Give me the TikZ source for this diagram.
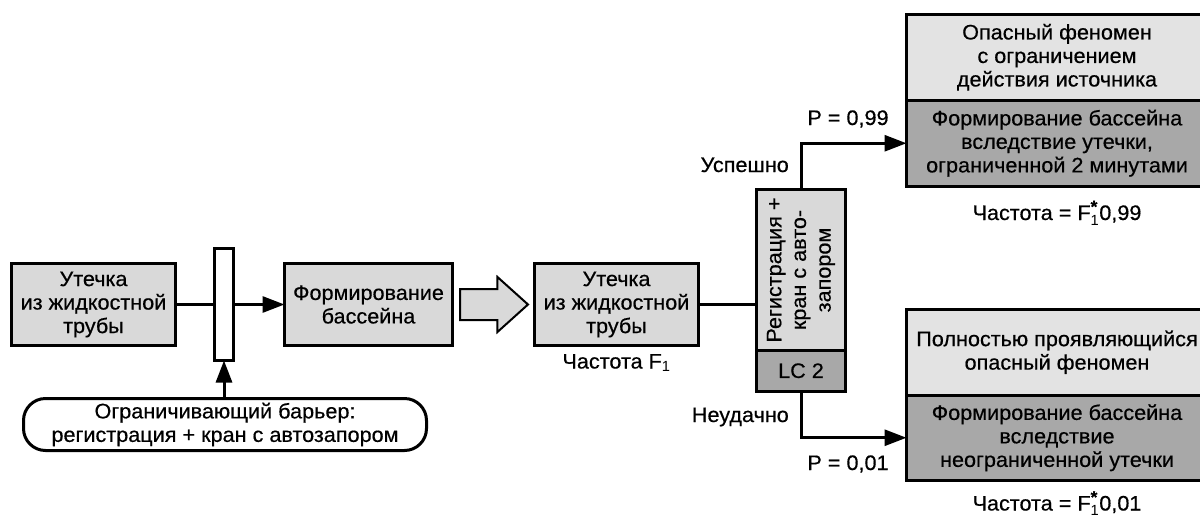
\documentclass[tikz,border=0pt]{standalone}
\usepackage{fontspec}
\setmainfont[FakeStretch=1.03,FakeBold=0.5]{Liberation Sans}
\setmathrm{Liberation Sans}
\usetikzlibrary{positioning,arrows.meta,shapes.arrows}
\definecolor{boxgray}{gray}{0.85}
\definecolor{lightgray}{gray}{0.89}
\definecolor{darkgray}{gray}{0.66}
\newcommand{\Fst}{F$_\mathrm{1}^{\hbox{\fontsize{17}{17}\selectfont\bfseries *}}$}
\tikzset{
  box/.style={draw, line width=3pt, fill=boxgray, align=center, inner sep=0pt, outer sep=0pt},
  top/.style={box, fill=lightgray, minimum width=301pt},
  res/.style={box, fill=darkgray, minimum width=301pt},
  lbl/.style={inner sep=0pt},
  line/.style={line width=3pt},
  arr/.style={line, -{Triangle[length=22pt,width=16pt]}},
  hollow/.style={single arrow, draw, line width=2pt, fill=boxgray, minimum height=68pt,
    single arrow head extend=12pt, single arrow tip angle=84, inner xsep=0pt, inner ysep=14.5pt}
}
\begin{document}
\begin{tikzpicture}[x=1pt, y=-1pt, font=\fontsize{21}{23.5}\selectfont]
  \useasboundingbox (0,0) rectangle (1200,517);
  \clip (0,0) rectangle (1200,517);

  \node[box, minimum width=164pt, minimum height=82pt] (l1) at (93.5,304.5) {Утечка\\из жидкостной\\трубы};
  \node[box, fill=white, minimum width=19pt, minimum height=112pt] (b1) at (224,304.5) {};
  \node[box, minimum width=168pt, minimum height=82pt] (p1) at (368.5,304.5) {Формирование\\бассейна};
  \node[hollow, right=6.5pt of p1] (s1) {};
  \node[box, minimum width=164pt, minimum height=82pt] (l2) at (616.5,304.5) {Утечка\\из жидкостной\\трубы};
  \node[lbl, below=23pt of l2, anchor=base] (fq) {Частота F$_\mathrm{1}$};

  \node[box, minimum width=89pt, minimum height=161pt] (d1) at (801,270)
    {\rotatebox{90}{\def\arraystretch{1.05}\begin{tabular}{@{}c@{}}Регистрация +\\кран с авто-\\запором\end{tabular}}};
  \node[box, fill=darkgray, minimum width=89pt, minimum height=40.5pt, below=0pt of d1] (lc) {LC 2};

  \node[top, minimum height=85.5pt] (h1) at (1057,57.25) {Опасный феномен\\с ограничением\\действия источника};
  \node[res, minimum height=86.5pt, below=0pt of h1] (f1) {Формирование бассейна\\вследствие утечки,\\ограниченной 2 минутами};
  \node[lbl, below=33.5pt of f1, anchor=base] (q1) {Частота = \Fst0,99};

  \node[top, minimum height=85.5pt] (h2) at (1057,352.25) {Полностью проявляющийся\\опасный феномен};
  \node[res, minimum height=85.5pt, below=0pt of h2] (f2) {Формирование бассейна\\вследствие\\неограниченной утечки};
  \node[lbl, below=30pt of f2, anchor=base] (q2) {Частота = \Fst0,01};

  \node[box, fill=white, rounded corners=22pt, minimum width=403pt, minimum height=52pt] (r1) at (225,424.5)
    {Ограничивающий барьер:\\регистрация + кран с автозапором};

  \node[lbl, anchor=base east] (ok) at (789,172) {Успешно};
  \node[lbl, anchor=base east] (ko) at (789,422) {Неудачно};
  \node[lbl, anchor=base] (p99) at (848,125) {P = 0,99};
  \node[lbl, anchor=base] (p01) at (848,470) {P = 0,01};

  \draw[line] (l1) -- (b1);
  \draw[arr] (b1) -- (p1);
  \draw[arr] (r1.north -| b1.south) -- (b1.south);
  \draw[line] (l2.east) -- (l2.east -| d1.west);
  \draw[arr] (d1.north) |- (f1.west);
  \draw[arr] (lc.south) |- (f2.west);
\end{tikzpicture}
\end{document}
